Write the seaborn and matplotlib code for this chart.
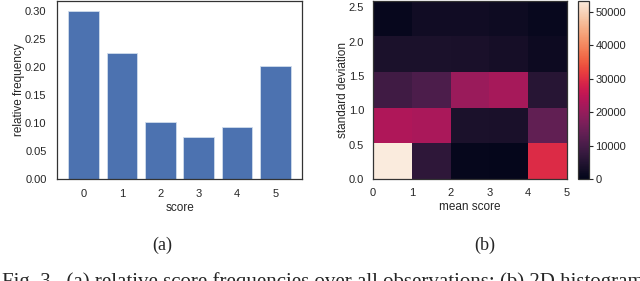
import matplotlib
matplotlib.use("Agg")
import matplotlib.pyplot as plt
import numpy as np
import pandas as pd
import seaborn as sns

# (a) relative score frequencies
scores = [0, 1, 2, 3, 4, 5]
rel_freq = [0.300, 0.225, 0.101, 0.074, 0.092, 0.202]

# (b) 2D histogram: mean score bins x standard deviation bins
mean_centers = [0.5, 1.5, 2.5, 3.5, 4.5]
std_centers = [0.26, 0.78, 1.30, 1.82, 2.34]
# rows = std bins (bottom to top), cols = mean bins (left to right)
counts = [
    [53400, 6500, 700, 600, 29500],
    [23000, 22500, 3800, 3700, 13500],
    [9000, 10800, 20500, 22000, 5500],
    [3800, 3800, 3600, 3000, 1800],
    [1000, 2500, 2400, 2000, 1200],
]
cbar_ticks = [0, 10000, 20000, 30000, 40000, 50000]

sns.set_style("white")
plt.rcParams['font.family'] = ['Liberation Sans', 'DejaVu Sans']
plt.rcParams['font.size'] = 8

fig = plt.figure(figsize=(6.4, 2.81), dpi=100)
ax1 = fig.add_axes([57 / 640, 1 - 179 / 281, 245 / 640, 178.5 / 281])
ax2 = fig.add_axes([373 / 640, 1 - 179 / 281, 194 / 640, 178.5 / 281])
cax = fig.add_axes([578 / 640, 1 - 179 / 281, 11 / 640, 178.5 / 281])

sns.barplot(x=scores, y=rel_freq, color='#4c72b0', saturation=1,
            edgecolor='#d0dcec', linewidth=0.6, ax=ax1)
ax1.set_xlim(-0.69, 5.69)
ax1.set_ylim(0, 0.318)
ax1.set_yticks([0, 0.05, 0.10, 0.15, 0.20, 0.25, 0.30])
ax1.set_yticklabels(['0.00', '0.05', '0.10', '0.15', '0.20', '0.25', '0.30'])
ax1.tick_params(labelsize=8, pad=4)
ax1.set_xlabel('score', fontsize=8.5, labelpad=2)
ax1.set_ylabel('relative frequency', fontsize=8.5, labelpad=0)

rows = []
for i, s in enumerate(std_centers):
    for j, m in enumerate(mean_centers):
        rows.append({'mean': m, 'std': s, 'n': counts[i][j]})
df = pd.DataFrame(rows)

sns.histplot(data=df, x='mean', y='std', weights='n',
             binwidth=(1, 0.52), binrange=((0, 5), (0, 2.6)),
             cmap='rocket', vmin=0, vmax=53400,
             cbar=True, cbar_ax=cax, ax=ax2)
ax2.set_xlim(0, 5)
ax2.set_ylim(0, 2.6)
ax2.set_xticks([0, 1, 2, 3, 4, 5])
ax2.set_yticks([0.0, 0.5, 1.0, 1.5, 2.0, 2.5])
ax2.set_yticklabels(['0.0', '0.5', '1.0', '1.5', '2.0', '2.5'])
ax2.tick_params(labelsize=8, pad=3)
ax2.set_xlabel('mean score', fontsize=8.5, labelpad=2)
ax2.set_ylabel('standard deviation', fontsize=8.5, labelpad=0)
cax.set_yticks(cbar_ticks)
cax.tick_params(length=3, width=0.8, pad=1.5, labelsize=8)

for ax in (ax1, ax2, cax):
    for sp in ax.spines.values():
        sp.set_color('#333333')
        sp.set_linewidth(0.9)

fig.text(162 / 640, 1 - 245 / 281, '(a)', ha='center', va='center',
         family=['Liberation Serif'], fontsize=13)
fig.text(485 / 640, 1 - 245 / 281, '(b)', ha='center', va='center',
         family=['Liberation Serif'], fontsize=13)
fig.text(2 / 640, 1 - 287 / 281,
         'Fig. 3.  (a) relative score frequencies over all observations; (b) 2D histogram of mean score and standard deviation',
         ha='left', va='baseline', family=['Liberation Serif'], fontsize=15)

fig.savefig('out.png', dpi=100)
